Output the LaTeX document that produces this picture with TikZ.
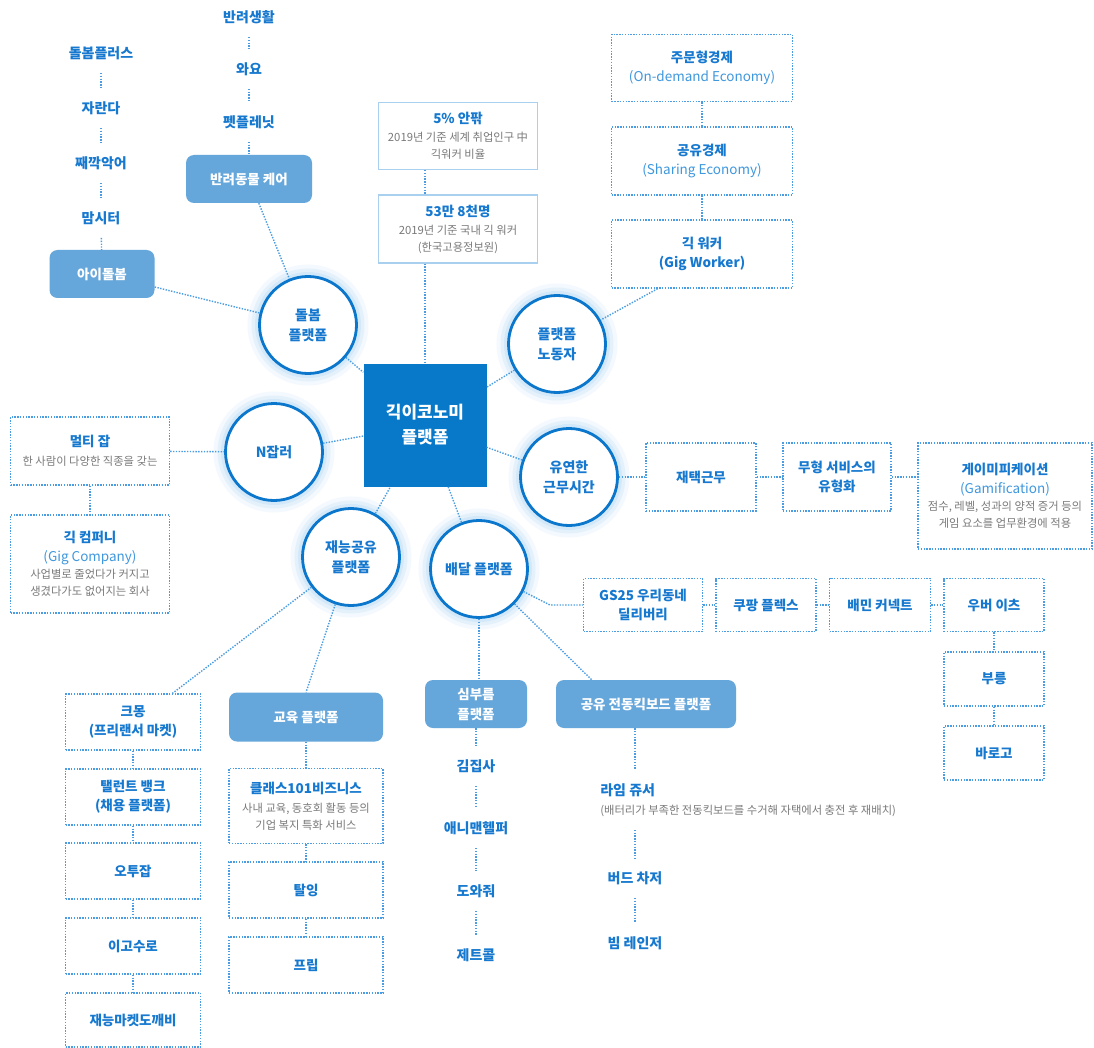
\documentclass[tikz,border=0pt]{standalone}
\usepackage{fontspec}
\setmainfont{Noto Sans CJK KR}
\usepackage{tikz}
\definecolor{hubblue}{HTML}{0879C9}
\definecolor{ringblue}{HTML}{0B77CC}
\definecolor{txtblue}{HTML}{1679CF}
\definecolor{subblue}{HTML}{3F98DE}
\definecolor{boxblue}{HTML}{66A7DB}
\definecolor{dotblue}{HTML}{4A9DE2}
\definecolor{paleblue}{HTML}{A9D0EF}
\definecolor{graytxt}{HTML}{7A7A7A}
\definecolor{glowa}{HTML}{D3E9F9}
\definecolor{glowb}{HTML}{E4F1FB}
\definecolor{glowc}{HTML}{F3F9FE}
\newcommand{\hubfont}{\fontsize{17}{25}\selectfont\bfseries}
\newcommand{\circfont}{\fontsize{14}{20}\selectfont\bfseries}
\newcommand{\itemfont}{\fontsize{14}{19}\selectfont\bfseries}
\newcommand{\platefont}{\fontsize{13.5}{20}\selectfont\bfseries}
\newcommand{\headfont}{\fontsize{13.5}{19}\selectfont\bfseries}
\newcommand{\subfont}{\fontsize{13.5}{19}\selectfont\mdseries}
\newcommand{\grayfont}{\fontsize{11.3}{17}\selectfont\mdseries}
\tikzset{
    %Define style for the centre box
    hubbox/.style={
           rectangle,
           fill=hubblue,
           text=white,
           minimum width=123pt,
           minimum height=123pt,
           align=center,
           font=\hubfont},
    %Define style for circles
    topic/.style={
           circle,
           draw=ringblue, line width=2.8pt,
           fill=white,
           minimum size=97pt,
           inner sep=0pt,
           text=txtblue,
           align=center,
           font=\circfont,
           preaction={draw=glowc, line width=24pt},
           preaction={draw=glowb, line width=16pt},
           preaction={draw=glowa, line width=9pt}},
    %Define style for boxes
    platebox/.style={
           rectangle,
           rounded corners=8pt,
           fill=boxblue,
           text=white,
           align=center,
           inner sep=0pt,
           font=\platefont},
    dotbox/.style={
           rectangle,
           draw=dotblue, line width=1.4pt,
           dash pattern=on 1.4pt off 1.4pt,
           align=center,
           inner sep=0pt,
           text=graytxt,
           font=\grayfont},
    dotitem/.style={
           dotbox,
           text=txtblue,
           font=\headfont},
    linebox/.style={
           rectangle,
           draw=paleblue, line width=1.2pt,
           align=center,
           inner sep=0pt,
           text=graytxt,
           font=\grayfont},
    item/.style={
           text=txtblue,
           outer sep=10pt,
           font=\itemfont},
    % Define connector style
    link/.style={
           draw=dotblue,
           line width=1.4pt,
           dash pattern=on 1.4pt off 1.4pt}
}
\begin{document}
\begin{tikzpicture}[x=1pt,y=-1pt,every edge/.style={link}]
\useasboundingbox[fill=white] (0,0) rectangle (1094,1048);
 %centre and circles
\node[hubbox](hub) at (425,425){긱이코노미\\플랫폼};
\node[topic](care) at (308,325){돌봄\\플랫폼};
\node[topic](labor) at (557,344){플랫폼\\노동자};
\node[topic](njob) at (274,452){N잡러};
\node[topic](flex) at (569,477){유연한\\근무시간};
\node[topic](talent) at (351,557){재능공유\\플랫폼};
\node[topic](deliv) at (479,569){배달 플랫폼};
 %care platforms
\node[item](c1) at (101,53){돌봄플러스};
\node[item](c2) at (101,108){자란다};
\node[item](c3) at (101,163){째깍악어};
\node[item](c4) at (101,218){맘시터};
\node[platebox, minimum width=105pt, minimum height=48pt](kid) at (102,274){아이돌봄};
\node[item](p1) at (249,17){반려생활};
\node[item](p2) at (249,69){와요};
\node[item](p3) at (249,122){펫플레닛};
\node[platebox, minimum width=126pt, minimum height=48pt](pet) at (249,179){반려동물 케어};
 %numbers
\node[linebox, minimum width=159pt, minimum height=67pt](pct) at (458,136){{\headfont\color{txtblue}5\% 안팎}\\[1pt]2019년 기준 세계 취업인구 中\\긱워커 비율};
\node[linebox, minimum width=159pt, minimum height=68pt](man) at (458,229){{\headfont\color{txtblue}53만 8천명}\\[1pt]2019년 기준 국내 긱 워커\\(한국고용정보원)};
 %economy
\node[dotbox, minimum width=181pt, minimum height=67pt](odm) at (702,68){{\headfont\color{txtblue}주문형경제}\\[2pt]{\subfont\color{subblue}(On-demand Economy)}};
\node[dotbox, minimum width=181pt, minimum height=68pt](share) at (702,161){{\headfont\color{txtblue}공유경제}\\[2pt]{\subfont\color{subblue}(Sharing Economy)}};
\node[dotitem, minimum width=181pt, minimum height=68pt](gig) at (702,254){긱 워커\\(Gig Worker)};
 %n jobs
\node[dotbox, minimum width=159pt, minimum height=68pt](multi) at (90,451){{\headfont\color{txtblue}멀티 잡}\\[2pt]한 사람이 다양한 직종을 갖는};
\node[dotbox, minimum width=159pt, minimum height=98pt](gigco) at (90,564){{\headfont\color{txtblue}긱 컴퍼니}\\[2pt]{\subfont\color{subblue}(Gig Company)}\\사업별로 줄었다가 커지고\\생겼다가도 없어지는 회사};
 %flexible work
\node[dotitem, minimum width=110pt, minimum height=68pt](home) at (701,477){재택근무};
\node[dotitem, minimum width=108pt, minimum height=68pt](intang) at (837,477){무형 서비스의\\유형화};
\node[dotbox, minimum width=174pt, minimum height=106pt](gamif) at (1005,496){{\headfont\color{txtblue}게이미피케이션}\\[2pt]{\subfont\color{subblue}(Gamification)}\\점수, 레벨, 성과의 양적 증거 등의\\게임 요소를 업무환경에 적용};
 %delivery
\coordinate (gsbend) at (550,605);
\node[dotitem, minimum width=119pt, minimum height=53pt](gs) at (643,605){GS25 우리동네\\딜리버리};
\node[dotitem, minimum width=100pt, minimum height=53pt](coup) at (766,605){쿠팡 플렉스};
\node[dotitem, minimum width=101pt, minimum height=53pt](baemin) at (880,605){배민 커넥트};
\node[dotitem, minimum width=100pt, minimum height=53pt](uber) at (994,605){우버 이츠};
\node[dotitem, minimum width=100pt, minimum height=54pt](vroong) at (994,679){부릉};
\node[dotitem, minimum width=100pt, minimum height=54pt](barogo) at (994,753){바로고};
\node[platebox, minimum width=102pt, minimum height=48pt](errand) at (476,704){심부름\\플랫폼};
\node[platebox, minimum width=180pt, minimum height=48pt](kick) at (646,704){공유 전동킥보드 플랫폼};
\node[item](kim) at (476,766){김집사};
\node[item](anyman) at (476,828){애니맨헬퍼};
\node[item](dowa) at (476,891){도와줘};
\node[item](jet) at (476,955){제트콜};
\node[item, align=left, anchor=west](lime) at (587,800){라임 쥬서\\{\grayfont\color{graytxt}(배터리가 부족한 전동킥보드를 수거해 자택에서 충전 후 재배치)}};
\node[item](bird) at (635,878){버드 차저};
\node[item](beam) at (635,943){빔 레인저};
 %talent sharing
\node[dotitem, minimum width=135pt, minimum height=56pt](kmong) at (133,722){크몽\\(프리랜서 마켓)};
\node[dotitem, minimum width=135pt, minimum height=56pt](tbank) at (133,797){탤런트 뱅크\\(채용 플랫폼)};
\node[dotitem, minimum width=135pt, minimum height=56pt](otujob) at (133,871){오투잡};
\node[dotitem, minimum width=135pt, minimum height=56pt](igosu) at (133,946){이고수로};
\node[dotitem, minimum width=135pt, minimum height=54pt](dokkae) at (133,1020){재능마켓도깨비};
\node[platebox, minimum width=154pt, minimum height=49pt](edu) at (306,717){교육 플랫폼};
\node[dotbox, minimum width=154pt, minimum height=75pt](class) at (306,806){{\headfont\color{txtblue}클래스101비즈니스}\\[2pt]사내 교육, 동호회 활동 등의\\기업 복지 특화 서비스};
\node[dotitem, minimum width=154pt, minimum height=56pt](taling) at (306,890){탈잉};
\node[dotitem, minimum width=154pt, minimum height=56pt](frip) at (306,965){프립};
 %links
\path (care) edge (hub) (labor) edge (hub) (njob) edge (hub)
    (flex) edge (hub) (talent) edge (hub) (deliv) edge (hub);
\path (c1) edge (c2) (c2) edge (c3) (c3) edge (c4) (c4) edge (kid) (kid) edge (care)
    (p1) edge (p2) (p2) edge (p3) (p3) edge (pet) (pet) edge (care);
\path (pct.south -| hub.north) edge (man.north -| hub.north)
    (man.south -| hub.north) edge (hub.north);
\path (odm) edge (share) (share) edge (gig) (gig.218) edge (labor);
\path (multi) edge (gigco) (multi) edge (njob);
\path (flex) edge (home) (home) edge (intang)
    (intang.east) edge (intang.east -| gamif.west);
\draw[link] (deliv) -- (gsbend) -- (gs.west);
\path (gs) edge (coup) (coup) edge (baemin) (baemin) edge (uber)
    (uber) edge (vroong) (vroong) edge (barogo);
\path (deliv.south) edge (deliv.south |- errand.north) (deliv) edge (kick.156);
\path (errand) edge (kim) (kim) edge (anyman) (anyman) edge (dowa) (dowa) edge (jet);
\path (kick.south -| bird) edge (lime.north -| bird)
    (lime.south -| bird) edge (bird) (bird) edge (beam);
\path (talent) edge (kmong.36) (talent) edge (edu.north);
\path (kmong) edge (tbank) (tbank) edge (otujob) (otujob) edge (igosu) (igosu) edge (dokkae);
\path (edu) edge (class) (class) edge (taling) (taling) edge (frip);
\end{tikzpicture}
\end{document}
